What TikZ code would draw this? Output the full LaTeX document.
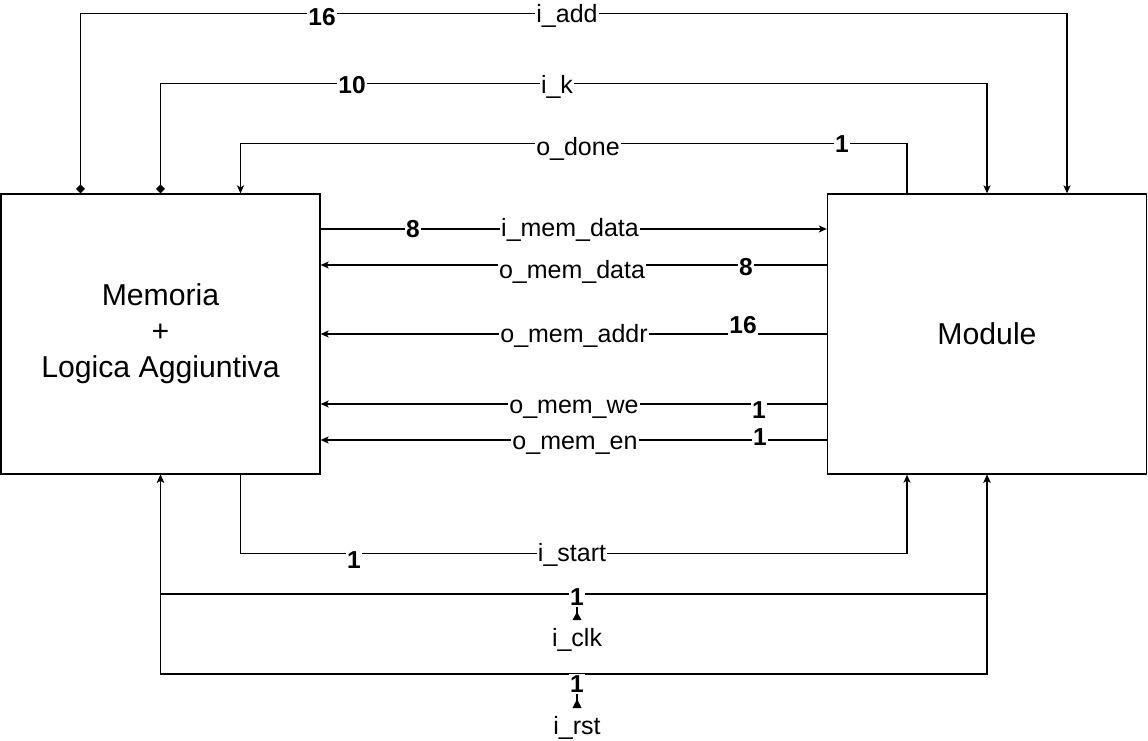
\documentclass[tikz,border=0pt]{standalone}
\usepackage{fontspec}
\setmainfont{Liberation Sans}
\usetikzlibrary{arrows.meta}
\begin{document}
\begin{tikzpicture}[x=1pt,y=-1pt,
  line width=1.3pt,
  blk/.style={draw, minimum width=319pt, minimum height=280pt, inner sep=0pt, align=center, font=\fontsize{30.2}{36}\selectfont},
  lbl/.style={fill=white, inner xsep=1pt, inner ysep=1pt, font=\fontsize{25}{30}\selectfont, text height=18pt, text depth=5pt},
  num/.style={fill=white, inner sep=1pt, font=\fontsize{24.5}{30}\selectfont\bfseries, text height=17.5pt, text depth=0pt},
  src/.style={lbl, anchor=north, inner ysep=8pt},
  arr/.style={-{Stealth[length=8pt,width=7pt,inset=2pt]}},
  diaarr/.style={{Diamond[length=9pt,width=9pt]}-{Stealth[length=8pt,width=7pt,inset=2pt]}},
]
\useasboundingbox (0,0) rectangle (1148,741);

% blocks
\node[blk] (mem) at (160.5,334) {Memoria\\+\\Logica Aggiuntiva};
\node[blk] (mod) at (987,334) {Module};

% top connectors
\draw[diaarr] ([xshift=-80pt]mem.north) -- ++(0,-180) -| ([xshift=80pt]mod.north);
\draw[diaarr] (mem.north) -- ++(0,-110) -| (mod.north);
\draw[arr] ([xshift=-80pt]mod.north) -- ++(0,-50) -| ([xshift=80pt]mem.north);

% middle connectors
\draw[arr] ([yshift=105pt]mem.east) -- ([yshift=105pt]mod.west);
\draw[arr] ([yshift=69pt]mod.west) -- ([yshift=69pt]mem.east);
\draw[arr] (mod.west) -- (mem.east);
\draw[arr] ([yshift=-70pt]mod.west) -- ([yshift=-70pt]mem.east);
\draw[arr] ([yshift=-106pt]mod.west) -- ([yshift=-106pt]mem.east);

% bottom connectors
\draw[arr] ([xshift=80pt]mem.south) -- ++(0,79) -| ([xshift=-80pt]mod.south);

\coordinate (clk) at (577,594);
\coordinate (rst) at (577,674);
\draw[arr] (rst) -| (mem.south);
\draw[arr] (rst) -| (mod.south);
\draw[arr] (clk) -| (mem.south);
\draw[arr] (clk) -| (mod.south);

\node[src] (clkl) at (577,620) {i\_clk};
\node[src] (rstl) at (577,708) {i\_rst};
\draw (clkl.north) -- (clk);
\draw (rstl.north) -- (rst);
\fill ([xshift=-4.5pt]clkl.north) -- ([yshift=8pt]clkl.north) -- ([xshift=4.5pt]clkl.north) -- cycle;
\fill ([xshift=-4.5pt]rstl.north) -- ([yshift=9pt]rstl.north) -- ([xshift=4.5pt]rstl.north) -- cycle;

% labels
\node[num] (n1) at (322,16.5) {16};
\node[lbl] (l1) at (567,16) {i\_add};
\node[num] (n2) at (352,85) {10};
\node[lbl] (l2) at (557,87) {i\_k};
\node[lbl] (l3) at (578,149) {o\_done};
\node[num] (n3) at (842,143.5) {1};

\node[num] (n4) at (413,228.5) {8};
\node[lbl] (l4) at (570,230) {i\_mem\_data};
\node[lbl] (l5) at (572,272) {o\_mem\_data};
\node[num] (n5) at (746,267) {8};
\node[lbl] (l6) at (574,336) {o\_mem\_addr};
\node[num] (n6) at (743,325) {16};
\node[lbl] (l7) at (574,407) {o\_mem\_we};
\node[num] (n7) at (759,410) {1};
\node[lbl] (l8) at (575,443) {o\_mem\_en};
\node[num] (n8) at (760,437) {1};

\node[lbl] (l9) at (572,555) {i\_start};
\node[num] (n9) at (354,560) {1};
\node[num] (n10) at (577,597) {1};
\node[num] (n11) at (577,684) {1};
\end{tikzpicture}
\end{document}
